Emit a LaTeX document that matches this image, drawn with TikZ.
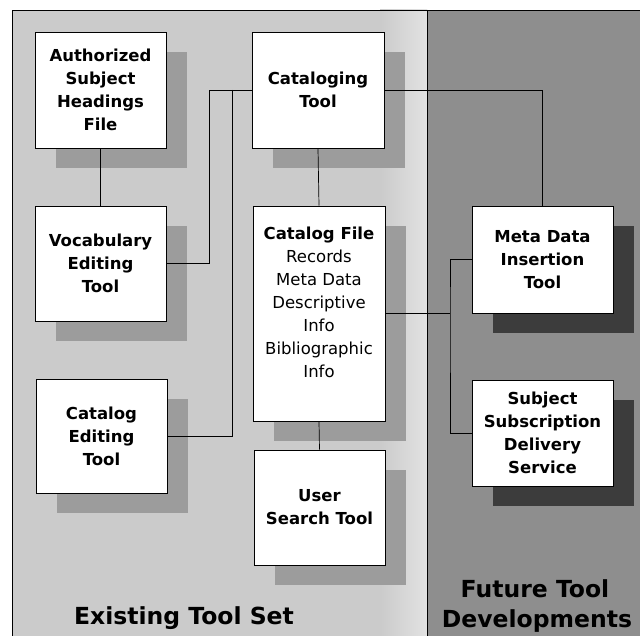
\documentclass[tikz,border=0pt]{standalone}
\usepackage{fontspec}
\setmainfont{DejaVu Sans}
\usetikzlibrary{shadows}
\definecolor{paneexist}{HTML}{CBCBCB}
\definecolor{panefuture}{HTML}{8E8E8E}
\definecolor{shadelight}{HTML}{9C9C9C}
\definecolor{shadedark}{HTML}{3C3C3C}
\definecolor{bandlight}{HTML}{E2E2E2}
\begin{document}
\begin{tikzpicture}[x=1pt,y=-1pt,
  toolbox/.style={draw=black, line width=0.7pt, fill=white, inner sep=0pt,
    align=center, font=\fontsize{16.5}{23}\selectfont\bfseries},
  existbox/.style={toolbox, drop shadow={shadow xshift=21pt, shadow yshift=-20pt, fill=shadelight, opacity=1}},
  futurebox/.style={toolbox, drop shadow={shadow xshift=21pt, shadow yshift=-20pt, fill=shadedark, opacity=1}},
  link/.style={draw=black, line width=0.7pt},
  paneltitle/.style={font=\fontsize{23.5}{30}\selectfont\bfseries, align=center, inner sep=0pt}]
\useasboundingbox (0,0) rectangle (640,636);

% panels
\fill[paneexist] (12,10) rectangle (427,636);
\shade[left color=paneexist, right color=bandlight] (380,10) rectangle (427,636);
\fill[panefuture] (427,10) rectangle (640,636);
\draw[line width=0.6pt] (12,636) -- (12,10) -- (640,10);
\draw[line width=0.6pt] (427,10) -- (427,636);

% existing tools
\node[existbox, minimum width=131pt, minimum height=116pt] (ash) at (100.5,90)
  {Authorized\\Subject\\Headings\\File};
\node[existbox, minimum width=131pt, minimum height=115pt] (voc) at (100.5,263.5)
  {Vocabulary\\Editing\\Tool};
\node[existbox, minimum width=131pt, minimum height=114pt] (ced) at (101.5,436)
  {Catalog\\Editing\\Tool};
\node[existbox, minimum width=132pt, minimum height=116pt] (cat) at (318,90)
  {Cataloging\\Tool};
\node[existbox, minimum width=132pt, minimum height=215pt] (cfile) at (319,313.5)
  {Catalog File\\\mdseries Records\\\mdseries Meta Data\\\mdseries Descriptive\\\mdseries Info\\\mdseries Bibliographic\\\mdseries Info\\\mbox{}};
\node[existbox, minimum width=131pt, minimum height=115pt] (ust) at (319.5,507.5)
  {User\\Search Tool};

% future tools
\node[futurebox, minimum width=141pt, minimum height=107pt] (mdi) at (542.5,259.5)
  {Meta Data\\Insertion\\Tool};
\node[futurebox, minimum width=141pt, minimum height=106pt] (ssd) at (542.5,433)
  {Subject\\Subscription\\Delivery\\Service};

% junction points
\coordinate (jv) at (209,90);
\coordinate (jc) at (232,90);
\coordinate (jf) at (450,313.5);

% connectors
\draw[link] (ash.south) -- (voc.north);
\draw[link] (cat.west) -- (jv) |- (voc.east);
\draw[link] (jc) |- (ced.east);
\draw[link] (cat.south) -- (cfile.north);
\draw[link] (cfile.south) -- (ust.north);
\draw[link] (cat.east) -| (mdi.north);
\draw[link] (cfile.east) -- (jf);
\draw[link] (mdi.west) -| (jf) |- (ssd.west);

% panel titles
\node[paneltitle, anchor=base] (exist) at (184,624) {Existing Tool Set};
\node[paneltitle, anchor=base] (future) at (535,597) {Future Tool};
\node[paneltitle, anchor=base] (futureb) at (537,627) {Developments};
\end{tikzpicture}
\end{document}
